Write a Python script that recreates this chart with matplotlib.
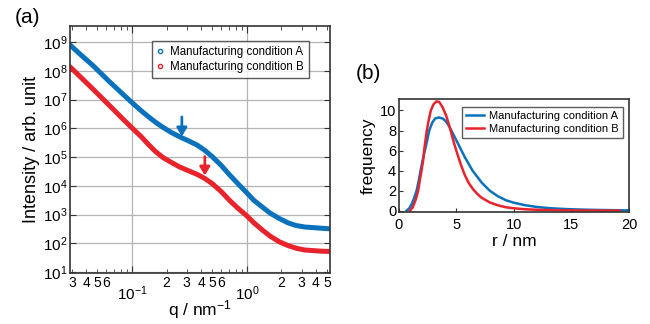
import matplotlib
matplotlib.use("Agg")
import matplotlib.pyplot as plt
import numpy as np
from matplotlib.ticker import FixedLocator, FuncFormatter, NullFormatter
from matplotlib.lines import Line2D

plt.rcParams['font.family'] = ['Liberation Sans', 'DejaVu Sans']
plt.rcParams['mathtext.fontset'] = 'custom'
plt.rcParams['mathtext.rm'] = 'Liberation Sans'
plt.rcParams['mathtext.it'] = 'Liberation Sans:italic'

# (a) scattering curves (log10 of intensity)
q = [0.029, 0.035, 0.046, 0.064, 0.08, 0.1, 0.12, 0.14, 0.16, 0.186, 0.22,
     0.26, 0.31, 0.37, 0.43, 0.5, 0.6, 0.71, 0.85, 1.0, 1.15, 1.38, 1.6,
     1.93, 2.3, 2.7, 3.2, 3.75, 4.4, 5.2]
logI_a = [8.9, 8.6, 8.18, 7.62, 7.26, 6.9, 6.62, 6.4, 6.22, 6.04, 5.86,
          5.71, 5.57, 5.42, 5.24, 5.02, 4.71, 4.38, 4.05, 3.76, 3.5, 3.25, 3.05,
          2.86, 2.71, 2.62, 2.57, 2.55, 2.53, 2.51]
logI_b = [8.14, 7.82, 7.36, 6.79, 6.4, 6.02, 5.72, 5.43, 5.2, 4.99, 4.82,
          4.66, 4.53, 4.40, 4.26, 4.08, 3.8, 3.49, 3.2, 2.96, 2.72, 2.45, 2.25,
          2.05, 1.92, 1.83, 1.77, 1.75, 1.73, 1.72]

# (b) size distributions
r_a = [0.65, 0.9, 1.1, 1.3, 1.53, 1.7, 1.88, 2.05, 2.25, 2.45, 2.63, 2.9, 3.15,
       3.45, 3.8, 4.1, 4.42, 5.0, 5.7, 6.4, 7.2, 7.9, 8.6, 9.3, 10.0, 11.0,
       12.0, 13.0, 14.0, 15.0, 16.5, 18.0, 20.0]
f_a = [0, 0.25, 0.66, 1.2, 2.0, 2.9, 4.0, 5.0, 6.0, 7.0, 8.0, 8.8, 9.2,
       9.3, 9.2, 8.9, 8.3, 7.0, 5.4, 4.0, 2.8, 2.0, 1.45, 1.05, 0.8, 0.55,
       0.38, 0.27, 0.2, 0.15, 0.1, 0.07, 0.04]
r_b = [0.95, 1.2, 1.45, 1.67, 1.85, 1.96, 2.1, 2.19, 2.3, 2.42, 2.6, 2.77, 3.0,
       3.25, 3.5, 3.8, 4.1, 4.42, 4.7, 5.0, 5.35, 5.7, 6.05, 6.44, 6.8, 7.16,
       7.9, 8.6, 9.3, 10.0, 11.0, 12.0, 14.0, 16.0, 19.2]
f_b = [0, 0.35, 1.1, 2.0, 3.3, 4.0, 5.0, 6.0, 7.0, 8.0, 9.1, 10.0, 10.6,
       10.9, 10.85, 10.3, 9.5, 8.3, 7.1, 5.94, 4.7, 3.63, 2.8, 2.15, 1.7, 1.32,
       0.83, 0.55, 0.35, 0.25, 0.15, 0.1, 0.05, 0.03, 0.01]

labels = ['Manufacturing condition A', 'Manufacturing condition B']
blue = '#0a72bd'
red = '#e8232b'

fig = plt.figure(figsize=(6.5, 3.24), dpi=100)

# ---- panel (a)
ax = fig.add_axes([0.1077, 0.1574, 0.4, 0.762])
ax.plot(q, 10 ** np.array(logI_a), color=blue, lw=3.6, solid_capstyle='round',
        solid_joinstyle='round')
ax.plot(q, 10 ** np.array(logI_b), color=red, lw=3.6, solid_capstyle='round',
        solid_joinstyle='round')
ax.set_xscale('log')
ax.set_yscale('log')
ax.set_xlim(0.0289, 5.3)
ax.set_ylim(10 ** 0.97, 10 ** 9.56)

ax.xaxis.set_major_locator(FixedLocator([0.1, 1.0]))
ax.xaxis.set_major_formatter(FuncFormatter(lambda v, p: r'$10^{%d}$' % round(np.log10(v))))
minors = [m * 10.0 ** e for e in (-2, -1, 0) for m in range(2, 10)]
ax.xaxis.set_minor_locator(FixedLocator(minors))

def minor_fmt(v, p):
    m = v / 10 ** np.floor(np.log10(v) + 1e-9)
    m = int(round(m))
    return str(m) if m <= 6 else ''
ax.xaxis.set_minor_formatter(FuncFormatter(minor_fmt))
ax.yaxis.set_major_locator(FixedLocator([10.0 ** k for k in range(1, 10)]))
ax.yaxis.set_major_formatter(FuncFormatter(lambda v, p: r'$10^{%d}$' % round(np.log10(v))))
ax.yaxis.set_minor_locator(FixedLocator([]))
ax.yaxis.set_minor_formatter(NullFormatter())

ax.grid(True, which='major', color='#b4b4b4', lw=0.9)
ax.set_axisbelow(True)
ax.tick_params(which='both', direction='in', top=True, right=True, labelsize=10.5,
               color='#333333')
ax.tick_params(which='major', axis='x', length=5, pad=8, labelsize=11)
ax.tick_params(which='minor', axis='x', length=3, pad=2, labelsize=10)
ax.tick_params(which='major', axis='y', length=4, pad=2, labelsize=11)
for s in ax.spines.values():
    s.set_color('#333333')
    s.set_linewidth(1.2)

ax.set_ylabel('Intensity / arb. unit', fontsize=13, labelpad=2)
ax.set_xlabel(r'q / nm$^{-1}$', fontsize=12.5, labelpad=-3)

# arrows marking the shoulders
arrow_a = (0.272, 10 ** 6.4, 10 ** 5.72)
arrow_b = (0.431, 10 ** 5.02, 10 ** 4.36)
for (xq, y0, y1), c in ((arrow_a, blue), (arrow_b, red)):
    ax.annotate('', xy=(xq, y1), xytext=(xq, y0),
                arrowprops=dict(arrowstyle='-|>,head_width=0.3,head_length=0.5',
                                color=c, lw=2, shrinkA=0, shrinkB=0))

handles = [Line2D([], [], ls='none', marker='o', ms=3, mfc='white', mec=blue, mew=1),
           Line2D([], [], ls='none', marker='o', ms=3, mfc='white', mec=red, mew=1)]
leg = ax.legend(handles, labels, loc='upper right', bbox_to_anchor=(0.94, 0.965),
                fontsize=8.3, frameon=True, fancybox=False, handlelength=0.6,
                handletextpad=0.5, borderpad=0.45, labelspacing=0.25)
leg.get_frame().set_edgecolor('#333333')
leg.get_frame().set_linewidth(1)

fig.text(0.022, 0.945, '(a)', fontsize=15, va='center', ha='left')

# ---- panel (b)
bx = fig.add_axes([0.6138, 0.3457, 0.3538, 0.349])
bx.plot(r_a, f_a, color=blue, lw=1.8, label=labels[0])
bx.plot(r_b, f_b, color=red, lw=1.8, label=labels[1])
bx.set_xlim(0, 20)
bx.set_ylim(-0.12, 11.15)
bx.set_xticks([0, 5, 10, 15, 20])
bx.set_yticks([0, 2, 4, 6, 8, 10])
bx.tick_params(direction='in', labelsize=10.5, length=3, pad=2, color='#333333')
bx.tick_params(axis='x', pad=4)
for s in bx.spines.values():
    s.set_color('#333333')
    s.set_linewidth(1.2)
bx.set_xlabel('r / nm', fontsize=12.5, labelpad=2)
bx.set_ylabel('frequency', fontsize=12.5, labelpad=3)
leg2 = bx.legend(loc='upper right', bbox_to_anchor=(1.0, 0.98), fontsize=8,
                 frameon=True, fancybox=False, handlelength=1.6,
                 handletextpad=0.5, borderpad=0.4, labelspacing=0.25)
leg2.get_frame().set_edgecolor('#333333')
leg2.get_frame().set_linewidth(1)

fig.text(0.548, 0.772, '(b)', fontsize=15, va='center', ha='left')

fig.savefig('out.png', dpi=100)
